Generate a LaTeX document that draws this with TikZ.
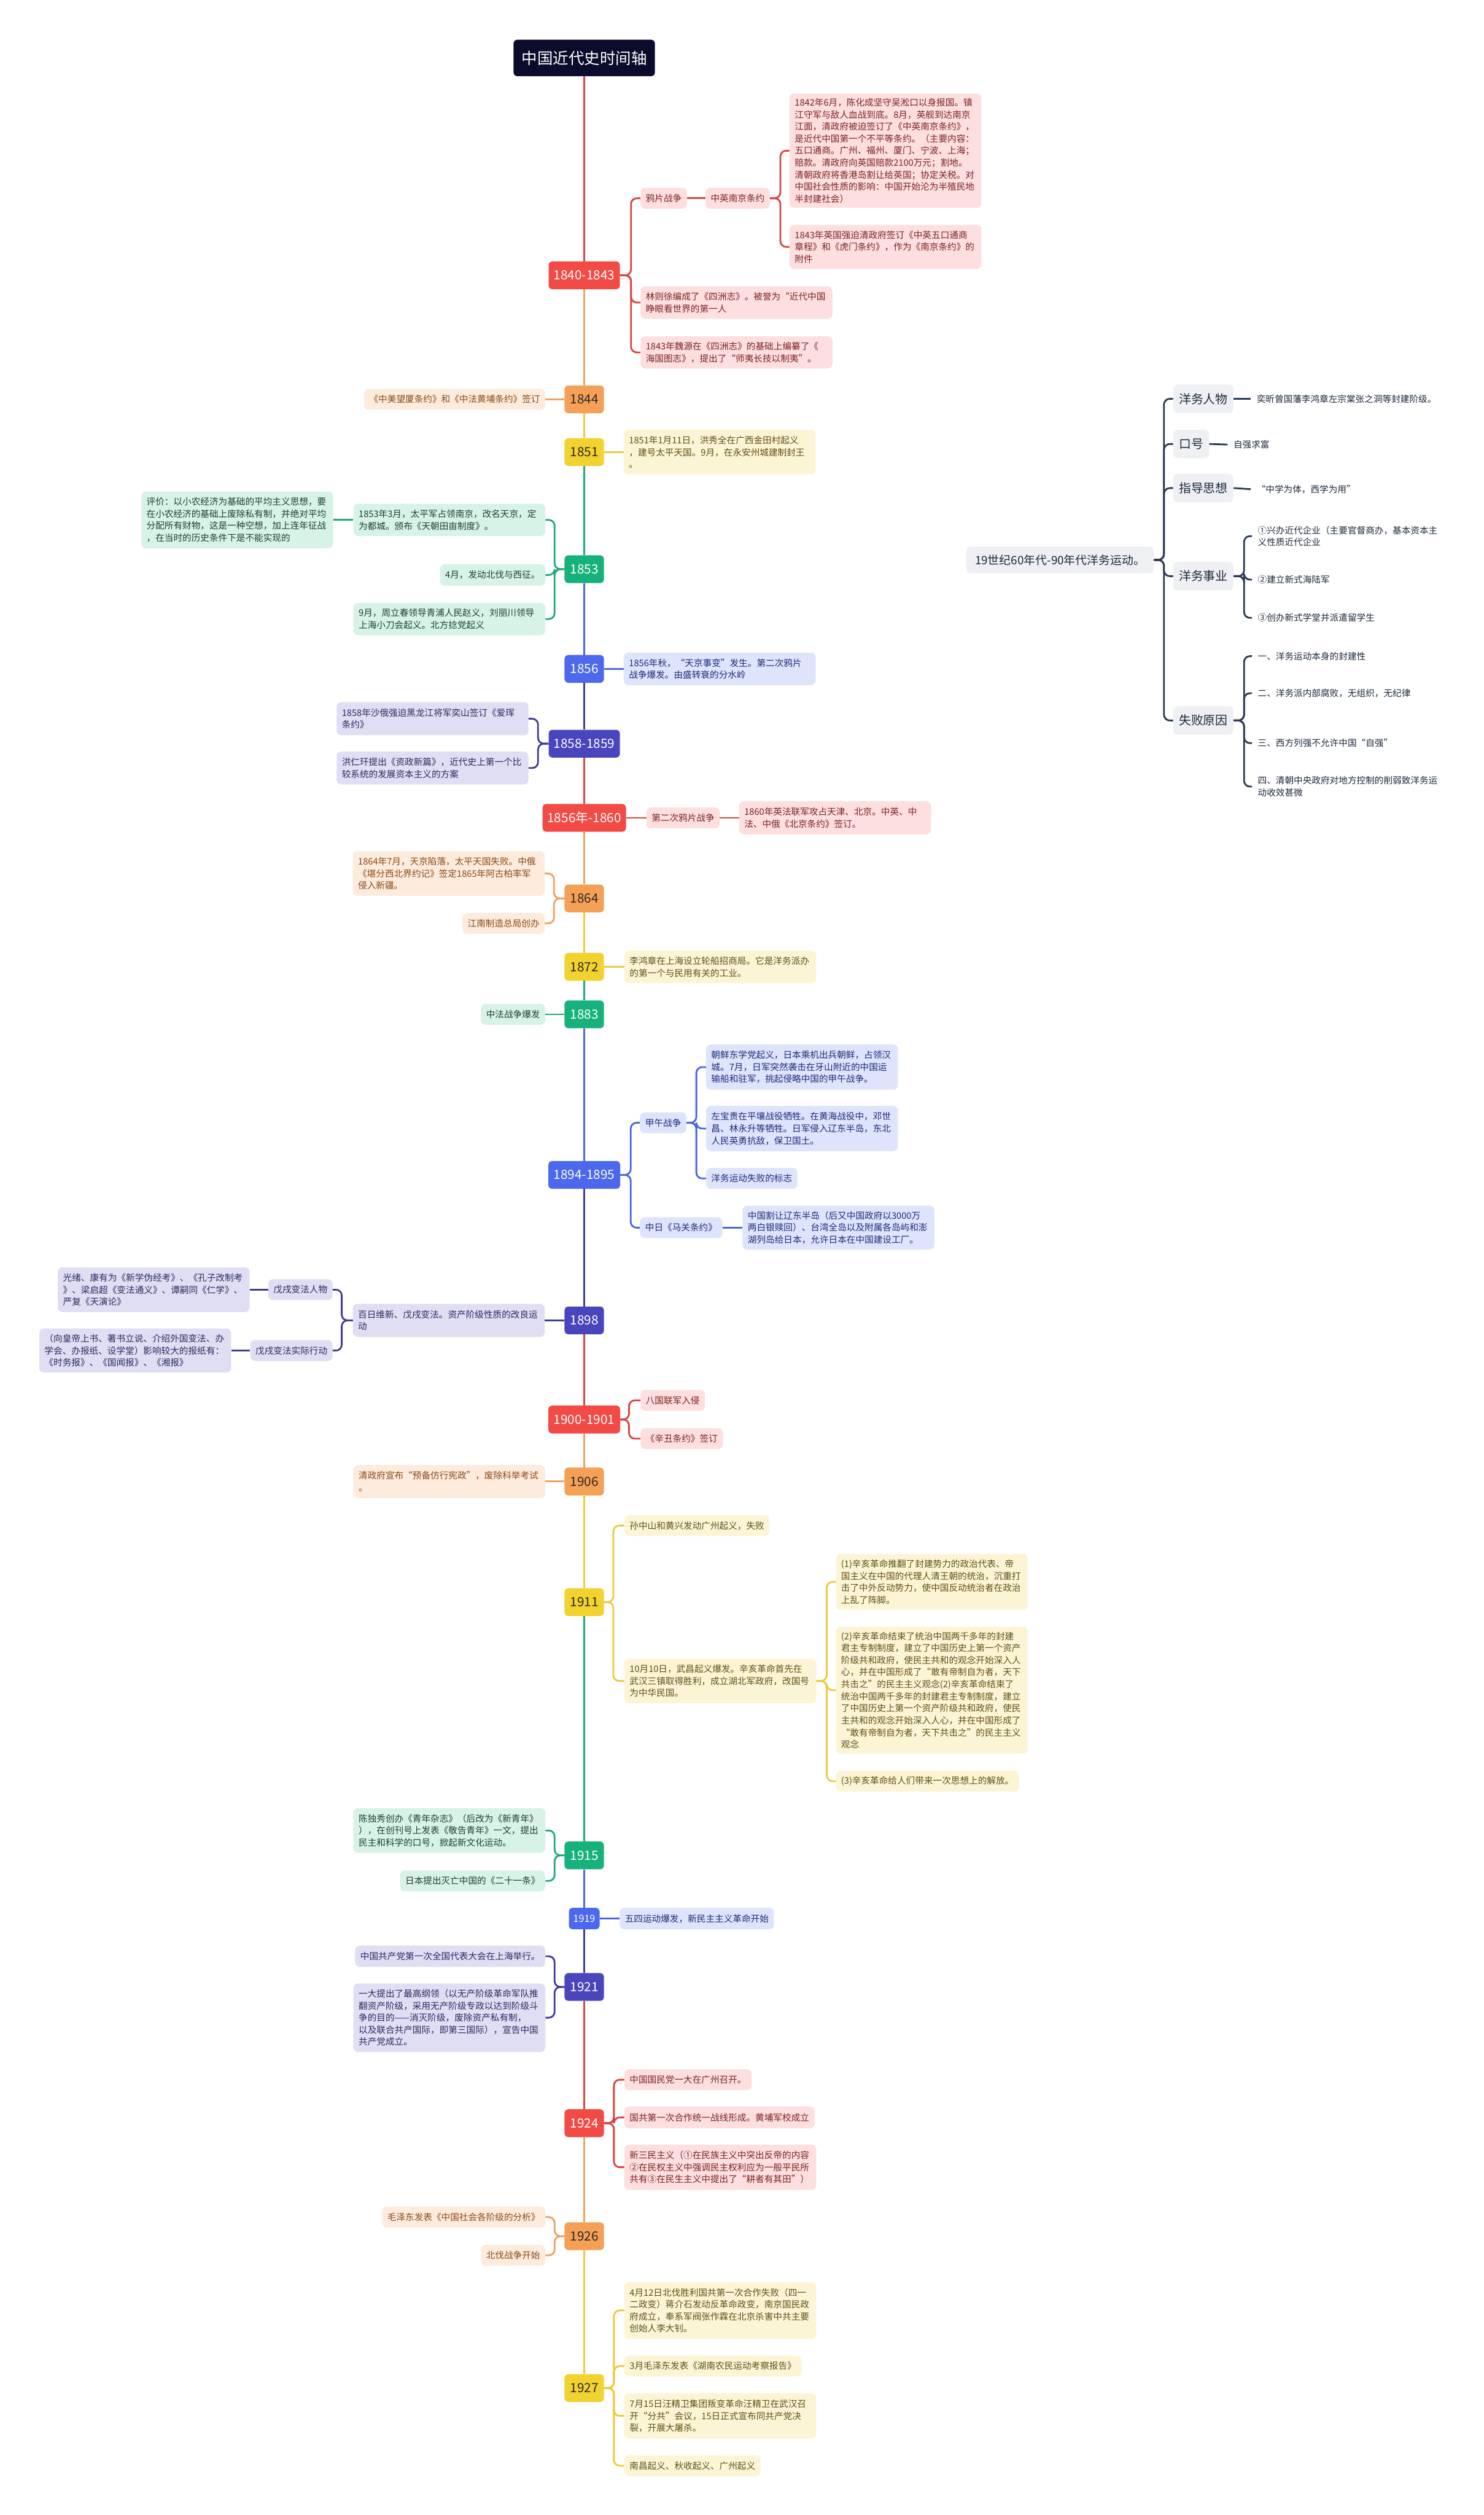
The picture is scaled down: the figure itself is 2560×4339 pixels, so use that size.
\documentclass[tikz,border=0pt]{standalone}
\usepackage{fontspec}
\setmainfont{Noto Sans CJK SC}
\definecolor{Rfill}{HTML}{F24B45}
\definecolor{Rline}{HTML}{D9433F}
\definecolor{Rbg}{HTML}{FDDFDF}
\definecolor{Rtext}{HTML}{7D2222}
\definecolor{Ofill}{HTML}{F5A057}
\definecolor{Oline}{HTML}{EFA15E}
\definecolor{Obg}{HTML}{FDEBDD}
\definecolor{Otext}{HTML}{8A4A18}
\definecolor{Yfill}{HTML}{F2D22E}
\definecolor{Yline}{HTML}{EBCB3A}
\definecolor{Ybg}{HTML}{FCF5D5}
\definecolor{Ytext}{HTML}{5E5015}
\definecolor{Gfill}{HTML}{17B27B}
\definecolor{Gline}{HTML}{1DAA78}
\definecolor{Gbg}{HTML}{D7F3E7}
\definecolor{Gtext}{HTML}{1E3F33}
\definecolor{Bfill}{HTML}{4C68EC}
\definecolor{Bline}{HTML}{4A66DF}
\definecolor{Bbg}{HTML}{DEE4FC}
\definecolor{Btext}{HTML}{1C2B7A}
\definecolor{Ifill}{HTML}{4946BD}
\definecolor{Iline}{HTML}{3E3C9B}
\definecolor{Ibg}{HTML}{DFDEF3}
\definecolor{Itext}{HTML}{2C2A62}
\definecolor{darkyr}{HTML}{2E2A22}
\definecolor{titlebg}{HTML}{0B0B2C}
\definecolor{greybg}{HTML}{EEF0F4}
\definecolor{navy}{HTML}{2C3A56}
\definecolor{navytext}{HTML}{1E293B}
\begin{document}
\begin{tikzpicture}[x=1pt,y=-1pt,
  year/.style={rounded corners=6, minimum height=48, minimum width=68, inner sep=0, font=\fontsize{22}{26}\selectfont},
  yR/.style={year, fill=Rfill, text=white},
  yO/.style={year, fill=Ofill, text=darkyr},
  yY/.style={year, fill=Yfill, text=darkyr},
  yG/.style={year, fill=Gfill, text=white},
  yB/.style={year, fill=Bfill, text=white},
  yI/.style={year, fill=Ifill, text=white},
  lbl/.style={rounded corners=8, inner xsep=9, inner ysep=0, minimum height=36, font=\fontsize{15.5}{20.8}\selectfont},
  lf/.style={lbl, text width=313, align=left},
  lR/.style={fill=Rbg, text=Rtext},
  lO/.style={fill=Obg, text=Otext},
  lY/.style={fill=Ybg, text=Ytext},
  lG/.style={fill=Gbg, text=Gtext},
  lB/.style={fill=Bbg, text=Btext},
  lI/.style={fill=Ibg, text=Itext},
  cn/.style={line width=3, rounded corners=10},
  spine/.style={line width=3.5},
  ybox/.style={rounded corners=8, fill=greybg, text=navytext, inner xsep=10, inner ysep=0, minimum height=49, font=\fontsize{21}{25}\selectfont},
  ytxt/.style={inner xsep=10, inner ysep=2, text=navytext, align=left, font=\fontsize{15.5}{20.8}\selectfont},
  ycn/.style={line width=3, rounded corners=10, draw=navy}
]
\fill[white] (0,0) rectangle (2560,4339);
\useasboundingbox (0,0) rectangle (2560,4339);

% title and year boxes
\node[fill=titlebg, text=white, rounded corners=6, minimum width=244, minimum height=63, inner sep=0, font=\fontsize{27}{32}\selectfont] (title) at (1008,100) {中国近代史时间轴};
\node[yR, minimum width=123] (y1840) at (1008,475) {1840-1843};
\node[yO] (y1844) at (1008,689) {1844};
\node[yY] (y1851) at (1008,780) {1851};
\node[yG] (y1853) at (1008,982) {1853};
\node[yB] (y1856) at (1008,1154) {1856};
\node[yI, minimum width=123] (y1858) at (1008,1283) {1858-1859};
\node[yR, minimum width=144] (y1860) at (1008,1411) {1856年-1860};
\node[yO] (y1864) at (1008,1550) {1864};
\node[yY] (y1872) at (1008,1668) {1872};
\node[yG] (y1883) at (1008,1750) {1883};
\node[yB, minimum width=124] (y1894) at (1008,2027) {1894-1895};
\node[yI] (y1898) at (1008,2278) {1898};
\node[yR, minimum width=124] (y1900) at (1008,2449) {1900-1901};
\node[yO] (y1906) at (1008,2556) {1906};
\node[yY] (y1911) at (1008,2764) {1911};
\node[yG] (y1915) at (1008,3201) {1915};
\node[yB, minimum width=53, minimum height=37, font=\fontsize{17}{20}\selectfont] (y1919) at (1008,3310) {1919};
\node[yI] (y1921) at (1008,3428) {1921};
\node[yR] (y1924) at (1008,3663) {1924};
\node[yO] (y1926) at (1008,3858) {1926};
\node[yY] (y1927) at (1008,4120) {1927};

% spine
\draw[spine, Rline] (title.south) -- (y1840.north);
\draw[spine, Oline] (y1840.south) -- (y1844.north);
\draw[spine, Yline] (y1844.south) -- (y1851.north);
\draw[spine, Gline] (y1851.south) -- (y1853.north);
\draw[spine, Bline] (y1853.south) -- (y1856.north);
\draw[spine, Iline] (y1856.south) -- (y1858.north);
\draw[spine, Rline] (y1858.south) -- (y1860.north);
\draw[spine, Oline] (y1860.south) -- (y1864.north);
\draw[spine, Yline] (y1864.south) -- (y1872.north);
\draw[spine, Gline] (y1872.south) -- (y1883.north);
\draw[spine, Bline] (y1883.south) -- (y1894.north);
\draw[spine, Iline] (y1894.south) -- (y1898.north);
\draw[spine, Rline] (y1898.south) -- (y1900.north);
\draw[spine, Oline] (y1900.south) -- (y1906.north);
\draw[spine, Yline] (y1906.south) -- (y1911.north);
\draw[spine, Gline] (y1911.south) -- (y1915.north);
\draw[spine, Bline] (y1915.south) -- (y1919.north);
\draw[spine, Iline] (y1919.south) -- (y1921.north);
\draw[spine, Rline] (y1921.south) -- (y1924.north);
\draw[spine, Oline] (y1924.south) -- (y1926.north);
\draw[spine, Yline] (y1926.south) -- (y1927.north);

% 1840-1843
\node[lbl, lR, anchor=west] (a1) at (1105,342) {鸦片战争};
\node[lbl, lR, anchor=west] (a2) at (1217,342) {中英南京条约};
\node[lf, lR, anchor=west, minimum height=197] (a3) at (1362,260) {1842年6月，陈化成坚守吴淞口以身报国。镇\\江守军与敌人血战到底。8月，英舰到达南京\\江面，清政府被迫签订了《中英南京条约》，\\是近代中国第一个不平等条约。（主要内容：\\五口通商。广州、福州、厦门、宁波、上海；\\赔款。清政府向英国赔款2100万元；割地。\\清朝政府将香港岛割让给英国；协定关税。对\\中国社会性质的影响：中国开始沦为半殖民地\\半封建社会）};
\node[lf, lR, anchor=west, minimum height=76] (a4) at (1362,426) {1843年英国强迫清政府签订《中英五口通商\\章程》和《虎门条约》，作为《南京条约》的\\附件};
\node[lf, lR, anchor=west, minimum height=56] (a5) at (1105,522) {林则徐编成了《四洲志》。被誉为“近代中国\\睁眼看世界的第一人};
\node[lf, lR, anchor=west, minimum height=56] (a6) at (1105,608) {1843年魏源在《四洲志》的基础上编纂了《\\海国图志》，提出了“师夷长技以制夷”。};
\foreach \c in {a1,a5,a6} \draw[cn, Rline] (y1840.east) -- ++(19,0) |- (\c.west);
\draw[cn, Rline] (a1.east) -- (a2.west);
\foreach \c in {a3,a4} \draw[cn, Rline] (a2.east) -- ++(18,0) |- (\c.west);

% 1844
\node[lbl, lO, anchor=east] (b1) at (941,689) {《中美望厦条约》和《中法黄埔条约》签订};
\draw[cn, Oline] (y1844.west) -- (b1.east);

% 1851
\node[lf, lY, anchor=west, minimum height=77] (c1) at (1076,780) {1851年1月11日，洪秀全在广西金田村起义\\，建号太平天国。9月，在永安州城建制封王\\。};
\draw[cn, Yline] (y1851.east) -- (c1.west);

% 1853
\node[lf, lG, anchor=east, minimum height=56] (d1) at (941,897) {1853年3月，太平军占领南京，改名天京，定\\为都城。颁布《天朝田亩制度》。};
\node[lf, lG, anchor=east, minimum height=98] (d0) at (575,897) {评价：以小农经济为基础的平均主义思想，要\\在小农经济的基础上废除私有制，并绝对平均\\分配所有财物，这是一种空想，加上连年征战\\，在当时的历史条件下是不能实现的};
\node[lbl, lG, anchor=east, minimum height=37] (d2) at (941,992) {4月，发动北伐与西征。};
\node[lf, lG, anchor=east, minimum height=56] (d3) at (941,1068) {9月，周立春领导青浦人民赵义，刘丽川领导\\上海小刀会起义。北方捻党起义};
\foreach \c in {d1,d2,d3} \draw[cn, Gline] (y1853.west) -- ++(-17,0) |- (\c.east);
\draw[cn, Gline] (d1.west) -- (d0.east);

% 1856
\node[lf, lB, anchor=west, minimum height=56] (e1) at (1076,1154) {1856年秋，“天京事变”发生。第二次鸦片\\战争爆发。由盛转衰的分水岭};
\draw[cn, Bline] (y1856.east) -- (e1.west);

% 1858-1859
\node[lf, lI, anchor=east, minimum height=57] (f1) at (912,1240) {1858年沙俄强迫黑龙江将军奕山签订《爱珲\\条约》};
\node[lf, lI, anchor=east, minimum height=57] (f2) at (912,1325) {洪仁玕提出《资政新篇》，近代史上第一个比\\较系统的发展资本主义的方案};
\foreach \c in {f1,f2} \draw[cn, Iline] (y1858.west) -- ++(-18,0) |- (\c.east);

% 1856-1860
\node[lbl, lR, anchor=west] (g1) at (1115,1411) {第二次鸦片战争};
\node[lf, lR, anchor=west, minimum height=57] (g2) at (1275,1411) {1860年英法联军攻占天津、北京。中英、中\\法、中俄《北京条约》签订。};
\draw[cn, Rline] (y1860.east) -- (g1.west);
\draw[cn, Rline] (g1.east) -- (g2.west);

% 1864
\node[lf, lO, anchor=east, minimum height=77] (h1) at (940,1507) {1864年7月，天京陷落，太平天国失败。中俄\\《堪分西北界约记》签定1865年阿古柏率军\\侵入新疆。};
\node[lbl, lO, anchor=east] (h2) at (940,1593) {江南制造总局创办};
\foreach \c in {h1,h2} \draw[cn, Oline] (y1864.west) -- ++(-18,0) |- (\c.east);

% 1872
\node[lf, lY, anchor=west, minimum height=56] (i1) at (1077,1668) {李鸿章在上海设立轮船招商局。它是洋务派办\\的第一个与民用有关的工业。};
\draw[cn, Yline] (y1872.east) -- (i1.west);

% 1883
\node[lbl, lG, anchor=east] (j1) at (941,1750) {中法战争爆发};
\draw[cn, Gline] (y1883.west) -- (j1.east);

% 1894-1895
\node[lbl, lB, anchor=west] (k1) at (1104,1937) {甲午战争};
\node[lf, lB, anchor=west, minimum height=78] (k11) at (1218,1841) {朝鲜东学党起义，日本乘机出兵朝鲜，占领汉\\城。7月，日军突然袭击在牙山附近的中国运\\输船和驻军，挑起侵略中国的甲午战争。};
\node[lf, lB, anchor=west, minimum height=78] (k12) at (1218,1947) {左宝贵在平壤战役牺牲。在黄海战役中，邓世\\昌、林永升等牺牲。日军侵入辽东半岛，东北\\人民英勇抗敌，保卫国土。};
\node[lbl, lB, anchor=west] (k13) at (1218,2033) {洋务运动失败的标志};
\node[lbl, lB, anchor=west] (k2) at (1104,2118) {中日《马关条约》};
\node[lf, lB, anchor=west, minimum height=76] (k21) at (1281,2118) {中国割让辽东半岛（后又中国政府以3000万\\两白银赎回）、台湾全岛以及附属各岛屿和澎\\湖列岛给日本，允许日本在中国建设工厂。};
\foreach \c in {k1,k2} \draw[cn, Bline] (y1894.east) -- ++(18,0) |- (\c.west);
\foreach \c in {k11,k12,k13} \draw[cn, Bline] (k1.east) -- ++(17,0) |- (\c.west);
\draw[cn, Bline] (k2.east) -- (k21.west);

% 1898
\node[lf, lI, anchor=east, minimum height=57] (l1) at (940,2278) {百日维新、戊戌变法。资产阶级性质的改良运\\动};
\node[lbl, lI, anchor=east] (l2) at (574,2225) {戊戌变法人物};
\node[lbl, lI, anchor=east] (l3) at (574,2330) {戊戌变法实际行动};
\node[lf, lI, anchor=east, minimum height=77] (l21) at (431,2225) {光绪、康有为《新学伪经考》、《孔子改制考\\》、梁启超《变法通义》、谭嗣同《仁学》、\\严复《天演论》};
\node[lf, lI, anchor=east, minimum height=76] (l31) at (399,2330) {（向皇帝上书、著书立说、介绍外国变法、办\\学会、办报纸、设学堂）影响较大的报纸有：\\《时务报》、《国闻报》、《湘报》};
\draw[cn, Iline] (y1898.west) -- (l1.east);
\foreach \c in {l2,l3} \draw[cn, Iline] (l1.west) -- ++(-19,0) |- (\c.east);
\draw[cn, Iline] (l2.west) -- (l21.east);
\draw[cn, Iline] (l3.west) -- (l31.east);

% 1900-1901
\node[lbl, lR, anchor=west] (m1) at (1105,2416) {八国联军入侵};
\node[lbl, lR, anchor=west] (m2) at (1105,2482) {《辛丑条约》签订};
\foreach \c in {m1,m2} \draw[cn, Rline] (y1900.east) -- ++(15,0) |- (\c.west);

% 1906
\node[lf, lO, anchor=east, minimum height=57] (n1) at (941,2556) {清政府宣布“预备仿行宪政”，废除科举考试\\。};
\draw[cn, Oline] (y1906.west) -- (n1.east);

% 1911
\node[lbl, lY, anchor=west] (o1) at (1077,2632) {孙中山和黄兴发动广州起义，失败};
\node[lf, lY, anchor=west, minimum height=77] (o2) at (1077,2900) {10月10日，武昌起义爆发。辛亥革命首先在\\武汉三镇取得胜利，成立湖北军政府，改国号\\为中华民国。};
\node[lf, lY, anchor=west, minimum height=96] (o21) at (1442,2729) {(1)辛亥革命推翻了封建势力的政治代表、帝\\国主义在中国的代理人清王朝的统治，沉重打\\击了中外反动势力，使中国反动统治者在政治\\上乱了阵脚。};
\node[lf, lY, anchor=west, minimum height=219] (o22) at (1442,2916) {(2)辛亥革命结束了统治中国两千多年的封建\\君主专制制度，建立了中国历史上第一个资产\\阶级共和政府，使民主共和的观念开始深入人\\心，并在中国形成了“敢有帝制自为者，天下\\共击之”的民主主义观念(2)辛亥革命结束了\\统治中国两千多年的封建君主专制制度，建立\\了中国历史上第一个资产阶级共和政府，使民\\主共和的观念开始深入人心，并在中国形成了\\“敢有帝制自为者，天下共击之”的民主主义\\观念};
\node[lbl, lY, anchor=west] (o23) at (1442,3073) {(3)辛亥革命给人们带来一次思想上的解放。};
\foreach \c in {o1,o2} \draw[cn, Yline] (y1911.east) -- ++(16,0) |- (\c.west);
\foreach \c in {o21,o22,o23} \draw[cn, Yline] (o2.east) -- ++(18,0) |- (\c.west);

% 1915
\node[lf, lG, anchor=east, minimum height=77] (p1) at (941,3158) {陈独秀创办《青年杂志》（后改为《新青年》\\），在创刊号上发表《敬告青年》一文，提出\\民主和科学的口号，掀起新文化运动。};
\node[lbl, lG, anchor=east] (p2) at (941,3245) {日本提出灭亡中国的《二十一条》};
\foreach \c in {p1,p2} \draw[cn, Gline] (y1915.west) -- ++(-17,0) |- (\c.east);

% 1919
\node[lbl, lB, anchor=west, minimum height=37] (q1) at (1069,3310) {五四运动爆发，新民主主义革命开始};
\draw[cn, Bline] (y1919.east) -- (q1.west);

% 1921
\node[lbl, lI, anchor=east, minimum height=37] (r1) at (941,3375) {中国共产党第一次全国代表大会在上海举行。};
\node[lf, lI, anchor=east, minimum height=118] (r2) at (941,3481) {一大提出了最高纲领（以无产阶级革命军队推\\翻资产阶级，采用无产阶级专政以达到阶级斗\\争的目的——消灭阶级，废除资产私有制，\\以及联合共产国际，即第三国际），宣告中国\\共产党成立。};
\foreach \c in {r1,r2} \draw[cn, Iline] (y1921.west) -- ++(-17,0) |- (\c.east);

% 1924
\node[lbl, lR, anchor=west] (s1) at (1077,3588) {中国国民党一大在广州召开。};
\node[lbl, lR, anchor=west, minimum height=38] (s2) at (1077,3653) {国共第一次合作统一战线形成。黄埔军校成立};
\node[lf, lR, anchor=west, minimum height=78] (s3) at (1077,3739) {新三民主义（①在民族主义中突出反帝的内容\\②在民权主义中强调民主权利应为一般平民所\\共有③在民生主义中提出了“耕者有其田”）};
\foreach \c in {s1,s2,s3} \draw[cn, Rline] (y1924.east) -- ++(17,0) |- (\c.west);

% 1926
\node[lbl, lO, anchor=east] (t1) at (941,3825) {毛泽东发表《中国社会各阶级的分析》};
\node[lbl, lO, anchor=east] (t2) at (941,3891) {北伐战争开始};
\foreach \c in {t1,t2} \draw[cn, Oline] (y1926.west) -- ++(-17,0) |- (\c.east);

% 1927
\node[lf, lY, anchor=west, minimum height=98] (u1) at (1077,3986) {4月12日北伐胜利国共第一次合作失败（四一\\二政变）蒋介石发动反革命政变，南京国民政\\府成立，奉系军阀张作霖在北京杀害中共主要\\创始人李大钊。};
\node[lbl, lY, anchor=west] (u2) at (1077,4082) {3月毛泽东发表《湖南农民运动考察报告》};
\node[lf, lY, anchor=west, minimum height=78] (u3) at (1077,4168) {7月15日汪精卫集团叛变革命汪精卫在武汉召\\开“分共”会议，15日正式宣布同共产党决\\裂，开展大屠杀。};
\node[lbl, lY, anchor=west] (u4) at (1077,4254) {南昌起义、秋收起义、广州起义};
\foreach \c in {u1,u2,u3,u4} \draw[cn, Yline] (y1927.east) -- ++(17,0) |- (\c.west);

% Yangwu movement
\node[ybox, minimum width=324, minimum height=46, font=\fontsize{20}{24}\selectfont] (Y0) at (1829,966) {19世纪60年代-90年代洋务运动。};
\node[ybox, anchor=west] (Y1) at (2024,688) {洋务人物};
\node[ybox, anchor=west] (Y2) at (2024,766) {口号};
\node[ybox, anchor=west] (Y3) at (2024,842) {指导思想};
\node[ybox, anchor=west] (Y4) at (2024,994) {洋务事业};
\node[ybox, anchor=west] (Y5) at (2024,1243) {失败原因};
\node[ytxt, anchor=west] (Y1t) at (2158,688) {奕昕曾国藩李鸿章左宗棠张之洞等封建阶级。};
\node[ytxt, anchor=west] (Y2t) at (2118,767) {自强求富};
\node[ytxt, anchor=west] (Y3t) at (2158,844) {“中学为体，西学为用”};
\node[ytxt, anchor=west] (Y41) at (2160,925) {①兴办近代企业（主要官督商办，基本资本主\\义性质近代企业};
\node[ytxt, anchor=west] (Y42) at (2160,1000) {②建立新式海陆军};
\node[ytxt, anchor=west] (Y43) at (2160,1066) {③创办新式学堂并派遣留学生};
\node[ytxt, anchor=west] (Y51) at (2160,1132) {一、洋务运动本身的封建性};
\node[ytxt, anchor=west] (Y52) at (2160,1196) {二、洋务派内部腐败，无组织，无纪律};
\node[ytxt, anchor=west] (Y53) at (2160,1282) {三、西方列强不允许中国“自强”};
\node[ytxt, anchor=west] (Y54) at (2160,1357) {四、清朝中央政府对地方控制的削弱致洋务运\\动收效甚微};
\foreach \c in {Y1,Y2,Y3,Y4,Y5} \draw[ycn] (Y0.east) -- ++(17,0) |- (\c.west);
\draw[ycn] (Y1.east) -- (Y1t.west);
\draw[ycn] (Y2.east) -- (Y2t.west);
\draw[ycn] (Y3.east) -- (Y3t.west);
\foreach \c in {Y41,Y42,Y43} \draw[ycn] (Y4.east) -- ++(18,0) |- (\c.west);
\foreach \c in {Y51,Y52,Y53,Y54} \draw[ycn] (Y5.east) -- ++(18,0) |- (\c.west);
\end{tikzpicture}
\end{document}
